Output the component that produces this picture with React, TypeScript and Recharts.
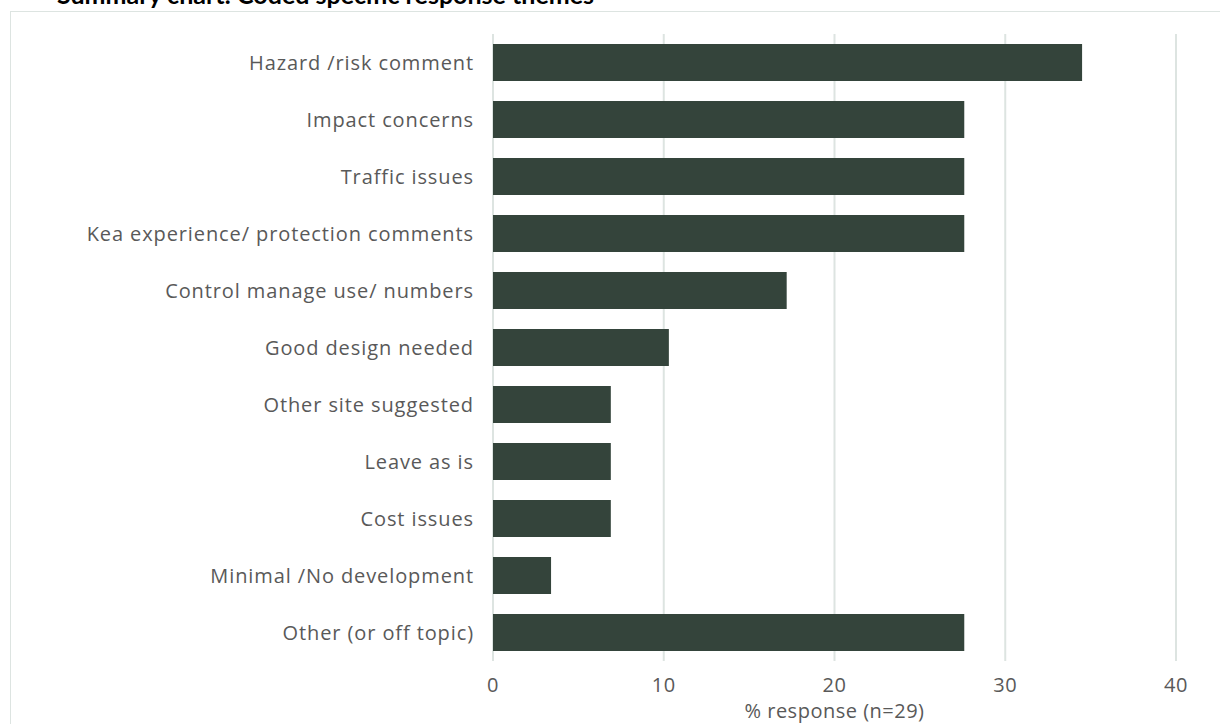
import React from "react";
import { BarChart, Bar, XAxis, YAxis, CartesianGrid } from "recharts";

const categories = [
  "Hazard /risk comment",
  "Impact concerns",
  "Traffic  issues",
  "Kea experience/ protection comments",
  "Control manage use/ numbers",
  "Good design needed",
  "Other site suggested",
  "Leave as is",
  "Cost issues",
  "Minimal /No development",
  "Other (or off topic)",
];
const values = [34.5, 27.6, 27.6, 27.6, 17.2, 10.3, 6.9, 6.9, 6.9, 3.4, 27.6];
const xTicks = [0, 10, 20, 30, 40];
const title = "Summary chart: Coded specific response themes";
const xLabel = "% response (n=29)";

const data = categories.map((c, i) => ({ name: c, value: values[i] }));

const FONT = "'Open Sans', sans-serif";

export default function App() {
  return (
    <div style={{ position: "absolute", left: 0, top: 0, width: 1220, height: 724, background: "#fff", overflow: "hidden" }}>
      <div
        style={{
          position: "absolute",
          left: 10,
          top: 11,
          width: 1240,
          height: 760,
          border: "1.5px solid #dde4e1",
          boxSizing: "border-box",
        }}
      />
      <div
        style={{
          position: "absolute",
          left: 57,
          top: -18.5,
          fontFamily: "Lato, sans-serif",
          fontWeight: 700,
          fontSize: 25,
          lineHeight: 1,
          color: "#000",
          whiteSpace: "pre",
        }}
      >
        {title}
      </div>
      <div style={{ position: "absolute", left: 0, top: 0 }}>
        <BarChart
          width={1220}
          height={724}
          data={data}
          layout="vertical"
          margin={{ top: 34, right: 44, bottom: 0, left: 0 }}
          barCategoryGap="17.5%"
        >
          <CartesianGrid horizontal={false} stroke="#dde4e1" strokeWidth={2} />
          <XAxis
            type="number"
            domain={[0, 40]}
            ticks={xTicks}
            height={63}
            axisLine={false}
            tickLine={false}
            tickSize={0}
            tickMargin={17}
            tick={{ fill: "#595959", fontSize: 20, fontFamily: FONT, letterSpacing: 0.5 }}
            label={{
              value: xLabel,
              position: "insideBottom",
              offset: 6,
              fill: "#595959",
              fontSize: 20,
              fontFamily: FONT,
              letterSpacing: 0.5,
            }}
          />
          <YAxis
            type="category"
            dataKey="name"
            width={493}
            axisLine={false}
            tickLine={false}
            tickSize={0}
            tickMargin={19}
            interval={0}
            tick={{ fill: "#595959", fontSize: 20, fontFamily: FONT, letterSpacing: 0.9 }}
          />
          <Bar dataKey="value" fill="#34443b" isAnimationActive={false} />
        </BarChart>
      </div>
    </div>
  );
}
